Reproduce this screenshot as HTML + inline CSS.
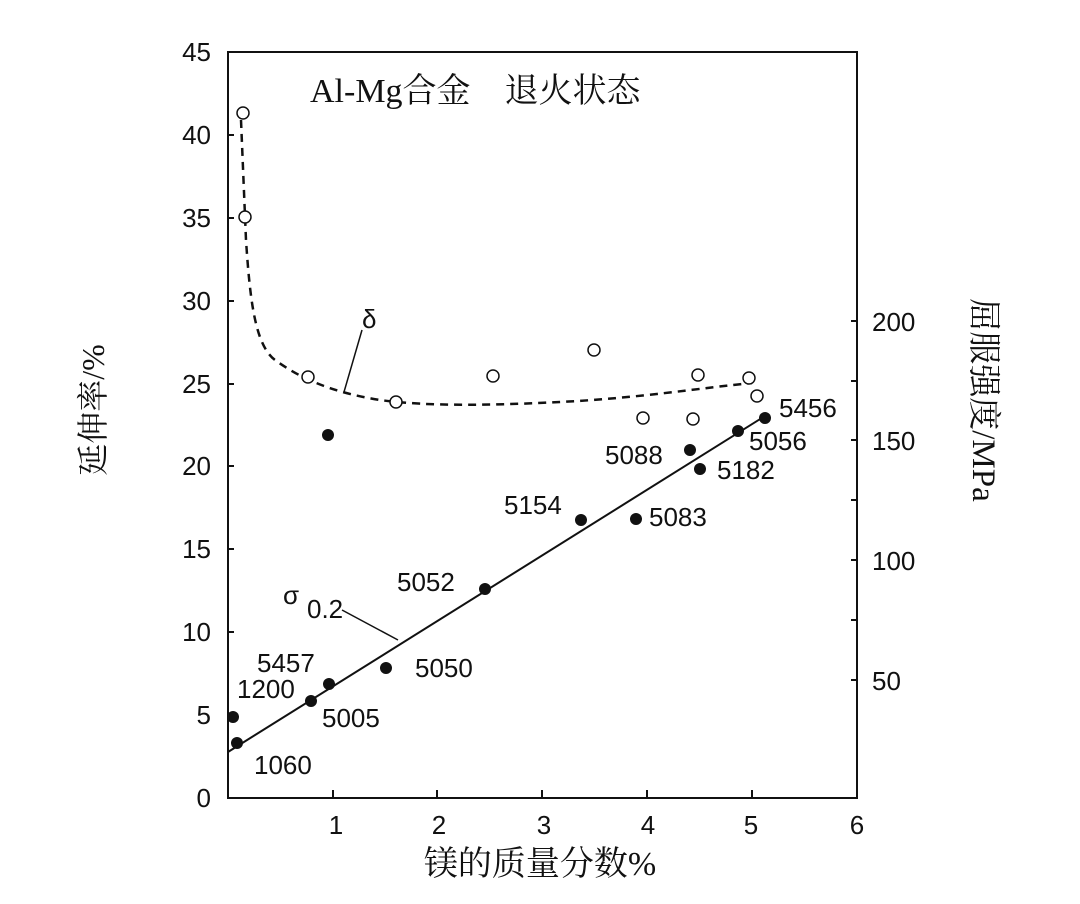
<!DOCTYPE html>
<html><head><meta charset="utf-8"><style>
html,body{margin:0;padding:0;background:#fff;}
svg{display:block;}
text{font-family:"Liberation Sans","Noto Sans CJK SC",sans-serif;fill:#111;}
.cn{font-family:"Liberation Serif","Noto Serif CJK SC",serif;}
</style></head><body>
<svg width="1080" height="904" viewBox="0 0 1080 904" xmlns="http://www.w3.org/2000/svg">
<g stroke="#111" stroke-width="2" fill="none">
<rect x="228" y="52" width="629" height="746"/>
<path d="M228 52h6M228 135h6M228 218h6M228 301h6M228 384h6M228 466h6M228 549h6M228 632h6M228 715h6"/>
<path d="M333 798v-8M437 798v-8M542 798v-8M647 798v-8M752 798v-8"/>
<path d="M857 321h-6M857 381h-6M857 440h-6M857 500h-6M857 560h-6M857 620h-6M857 680h-6"/>
</g>
<g font-size="26" text-anchor="end">
<text x="211" y="61">45</text><text x="211" y="144">40</text><text x="211" y="227">35</text>
<text x="211" y="310">30</text><text x="211" y="393">25</text><text x="211" y="475">20</text>
<text x="211" y="558">15</text><text x="211" y="641">10</text><text x="211" y="724">5</text>
<text x="211" y="807">0</text>
</g>
<g font-size="26" text-anchor="middle">
<text x="336" y="834">1</text><text x="439" y="834">2</text><text x="544" y="834">3</text>
<text x="648" y="834">4</text><text x="751" y="834">5</text><text x="857" y="834">6</text>
</g>
<g font-size="26">
<text x="872" y="331">200</text><text x="872" y="450">150</text>
<text x="872" y="570">100</text><text x="872" y="690">50</text>
</g>
<text x="540" y="875" font-size="34" text-anchor="middle" class="cn">镁的质量分数%</text>
<text transform="translate(104,410) rotate(-90)" font-size="32" text-anchor="middle" class="cn">延伸率/%</text>
<text transform="translate(973,400) rotate(90)" font-size="33" text-anchor="middle" class="cn">屈服强度/MPa</text>
<text x="310" y="102" font-size="34" class="cn">Al-Mg合金　退火状态</text>
<path d="M241 120 L246 240 C250 300 255 345 275 360 C300 378 330 392 380 400 C430 407 500 405 560 402 C640 398 700 388 752 383" stroke="#111" stroke-width="2.5" fill="none" stroke-dasharray="8 6"/>
<path d="M228 752 L765 416" stroke="#111" stroke-width="2" fill="none"/>
<path d="M344 392 L362 330" stroke="#111" stroke-width="1.5"/>
<path d="M342 610 L398 640" stroke="#111" stroke-width="1.5"/>
<text x="362" y="328" font-size="26">δ</text>
<text x="283" y="604" font-size="26">σ</text><text x="307" y="618" font-size="26">0.2</text>
<g fill="#fff" stroke="#111" stroke-width="1.5">
<circle cx="243" cy="113" r="6"/><circle cx="245" cy="217" r="6"/><circle cx="308" cy="377" r="6"/>
<circle cx="396" cy="402" r="6"/><circle cx="493" cy="376" r="6"/><circle cx="594" cy="350" r="6"/>
<circle cx="643" cy="418" r="6"/><circle cx="698" cy="375" r="6"/><circle cx="693" cy="419" r="6"/>
<circle cx="749" cy="378" r="6"/><circle cx="757" cy="396" r="6"/>
</g>
<g fill="#111">
<circle cx="233" cy="717" r="6"/><circle cx="237" cy="743" r="6"/><circle cx="311" cy="701" r="6"/>
<circle cx="329" cy="684" r="6"/><circle cx="386" cy="668" r="6"/><circle cx="328" cy="435" r="6"/>
<circle cx="485" cy="589" r="6"/><circle cx="581" cy="520" r="6"/><circle cx="636" cy="519" r="6"/>
<circle cx="690" cy="450" r="6"/><circle cx="700" cy="469" r="6"/><circle cx="738" cy="431" r="6"/>
<circle cx="765" cy="418" r="6"/>
</g>
<g font-size="26">
<text x="254" y="774">1060</text><text x="237" y="698">1200</text><text x="257" y="672">5457</text>
<text x="322" y="727">5005</text><text x="415" y="677">5050</text><text x="397" y="591">5052</text>
<text x="504" y="514">5154</text><text x="649" y="526">5083</text><text x="605" y="464">5088</text>
<text x="717" y="479">5182</text><text x="749" y="450">5056</text><text x="779" y="417">5456</text>
</g>
</svg>
</body></html>
